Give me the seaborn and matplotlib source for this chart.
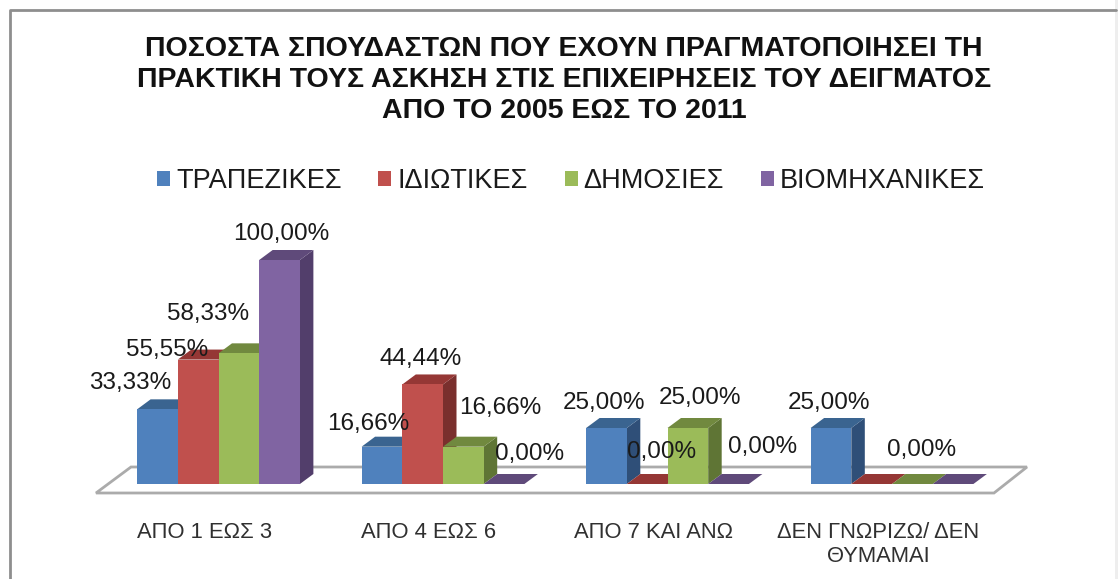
import matplotlib
matplotlib.use("Agg")
import matplotlib.pyplot as plt
from matplotlib.lines import Line2D
from matplotlib.patches import Polygon, Rectangle
from matplotlib.transforms import ScaledTranslation
import pandas as pd
import seaborn as sns

categories = ["ΑΠΟ 1 ΕΩΣ 3", "ΑΠΟ 4 ΕΩΣ 6", "ΑΠΟ 7 ΚΑΙ ΑΝΩ", "ΔΕΝ ΓΝΩΡΙΖΩ/ ΔΕΝ\nΘΥΜΑΜΑΙ"]
series_names = ["ΤΡΑΠΕΖΙΚΕΣ", "ΙΔΙΩΤΙΚΕΣ", "ΔΗΜΟΣΙΕΣ", "ΒΙΟΜΗΧΑΝΙΚΕΣ"]
trapezikes = [33.33, 16.66, 25.00, 25.00]
idiotikes = [55.55, 44.44, 0.00, 0.00]
dimosies = [58.33, 16.66, 25.00, 0.00]
viomichanikes = [100.00, 0.00, 0.00, 0.00]
title_text = ("ΠΟΣΟΣΤΑ ΣΠΟΥΔΑΣΤΩΝ ΠΟΥ ΕΧΟΥΝ ΠΡΑΓΜΑΤΟΠΟΙΗΣΕΙ ΤΗ\n"
              "ΠΡΑΚΤΙΚΗ ΤΟΥΣ ΑΣΚΗΣΗ ΣΤΙΣ ΕΠΙΧΕΙΡΗΣΕΙΣ ΤΟΥ ΔΕΙΓΜΑΤΟΣ\n"
              "ΑΠΟ ΤΟ 2005 ΕΩΣ ΤΟ 2011")

front_colors = ["#4F81BD", "#C0504D", "#9BBB59", "#8064A2"]
top_colors = ["#3A6490", "#953735", "#71893F", "#5F4A7A"]
side_colors = ["#2F4F78", "#7A2F2D", "#5F7535", "#523E6B"]

W, H = 1118, 579
sns.set_theme(style="white")
plt.rcParams["font.family"] = ["Liberation Sans", "DejaVu Sans"]

fig = plt.figure(figsize=(W / 100, H / 100), dpi=100, facecolor="white")
def fx(px): return px / W
def fy(py): return 1 - py / H

# plot area: value 0 at y=484 px, value 100 at y=260 px
left, right, base, top = 106.25, 1004.25, 484, 260
ax = fig.add_axes([fx(left), fy(base), fx(right - left), (base - top) / H])
ax.patch.set_alpha(0)

df = pd.DataFrame({
    "cat": categories * 4,
    "series": [s for s in series_names for _ in categories],
    "value": trapezikes + idiotikes + dimosies + viomichanikes,
})
sns.barplot(data=df, x="cat", y="value", hue="series", hue_order=series_names,
            order=categories, palette=front_colors, width=0.725, gap=0,
            saturation=1, dodge=True, ax=ax, legend=True, linewidth=0)
ax.set_xlim(-0.5, 3.5)
ax.set_ylim(0, 100)
ax.set_xlabel("")
ax.set_ylabel("")
ax.set_yticks([])
sns.despine(ax=ax, left=True, bottom=True)

# 3-D extrusion computed from each bar
dx = 13.5 / (right - left) * 4
dy = 10 / (base - top) * 100
z = 3
for c, cont in enumerate(ax.containers):
    for bar in cont:
        x0, w, h = bar.get_x(), bar.get_width(), bar.get_height()
        x1 = x0 + w
        ax.add_patch(Polygon([(x1, 0), (x1 + dx, dy), (x1 + dx, h + dy), (x1, h)],
                             closed=True, fc=side_colors[c], ec="none", zorder=z, clip_on=False))
        ax.add_patch(Polygon([(x0, h), (x0 + dx, h + dy), (x1 + dx, h + dy), (x1, h)],
                             closed=True, fc=top_colors[c], ec="none", zorder=z, clip_on=False))
        bar.set_zorder(z + 0.5)
        bar.set_clip_on(False)
    z += 1

# floor of the 3-D scene, behind the axes
floor = Polygon([(fx(96), fy(493)), (fx(131), fy(467)), (fx(1027), fy(467)), (fx(994), fy(493))],
                closed=True, transform=fig.transFigure, fc="white", ec="#ABABAB", lw=2, zorder=-1)
fig.add_artist(floor)
# outer chart frame: dark left and top edges, pale band at the right
fig.add_artist(Rectangle((fx(1115), 0), 3 / W, 1, transform=fig.transFigure,
                         fc="#EEEEEE", ec="none", zorder=-3))
fig.add_artist(Line2D([fx(9.5), fx(9.5), fx(1116)], [0, fy(9.5), fy(9.5)],
                      transform=fig.transFigure, color="#8E8E8E", lw=2, zorder=-2))

# tick labels
ax.tick_params(axis="x", length=0, pad=27, labelsize=15.8, labelcolor="#303030")
shift = ScaledTranslation(-14 / 100, 0, fig.dpi_scale_trans)
for lab in ax.get_xticklabels():
    lab.set_transform(lab.get_transform() + shift)
    lab.set_linespacing(1.2)

# data labels: centre of each label in pixels, None where the chart shows none
label_centers = [
    [(130, 383), (368, 424), (604, 403), (829, 403)],
    [(167, 350), (421, 359), (662, 452), None],
    [(208, 314), (500, 408), (700, 398), (922, 450)],
    [(281, 234), (530, 454), (763, 447), None],
]
values = [trapezikes, idiotikes, dimosies, viomichanikes]
for vals, centers in zip(values, label_centers):
    for v, pos in zip(vals, centers):
        if pos is None:
            continue
        fig.text(fx(pos[0]), fy(pos[1]), f"{v:.2f}".replace(".", ",") + "%",
                 ha="center", va="center", fontsize=17.5, color="#1a1a1a", zorder=10)

# title
fig.text(fx(564), fy(80), title_text, ha="center", va="center", fontsize=20.5,
         fontweight="bold", color="#111111", linespacing=1.24)

# legend
sns.move_legend(ax, loc="center", bbox_to_anchor=(fx(571), fy(181)),
                bbox_transform=fig.transFigure, ncols=4, title=None, frameon=False,
                fontsize=19.5, handlelength=0.48, handleheight=0.48,
                handletextpad=0.22, columnspacing=1.36, labelcolor="#1a1a1a")

fig.savefig("out.png", dpi=100, facecolor="white")
